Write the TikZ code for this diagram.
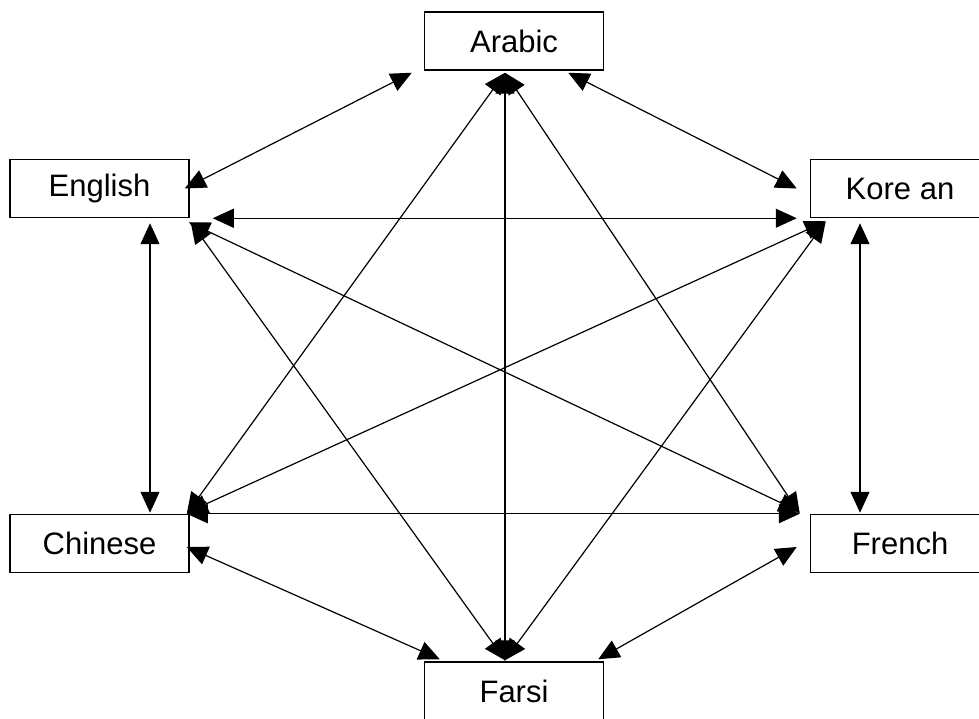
\documentclass[tikz,border=0pt]{standalone}
\usepackage{fontspec}
\setmainfont{Liberation Sans}
\usetikzlibrary{arrows.meta}

\begin{document}
\begin{tikzpicture}[
  x=1pt, y=-1pt,
  every node/.style={font=\fontsize{31}{36}\selectfont},
  lang/.style={rectangle, draw, line width=1.5pt, minimum width=179pt,
               minimum height=58pt, inner sep=0pt, align=center},
  arr/.style={{Triangle[length=21pt,width=19pt]}-{Triangle[length=21pt,width=19pt]},
              line width=1.2pt},
]
  \useasboundingbox (0,0) rectangle (979,719);

  % Language boxes
  \node[lang] (arabic)  at (514,41)    {Arabic};
  \node[lang] (english) at (99.5,188.5) {English};
  \node[lang] (korean)  at (900,188.5) {Kore an};
  \node[lang] (chinese) at (99.5,543.5) {Chinese};
  \node[lang] (french)  at (900,543.5) {French};
  \node[lang] (farsi)   at (514,691)   {Farsi};

  % Arrows from Arabic
  \draw[arr] ([xshift=-12pt,yshift=-2pt]arabic.south west) -- ([xshift=-5pt]english.east);
  \draw[arr] ([xshift=-36pt,yshift=-2pt]arabic.south east) -- ([xshift=-13pt]korean.west);
  \draw[arr] ([xshift=-9pt,yshift=-2pt]arabic.south) -- ([xshift=-9pt]farsi.north);
  \draw[arr] ([xshift=-9pt,yshift=-2pt]arabic.south) -- ([xshift=-3pt]chinese.north east);
  \draw[arr] ([xshift=-9pt,yshift=-2pt]arabic.south) -- ([xshift=-10pt]french.north west);

  % Arrows from English
  \draw[arr] ([xshift=23pt]english.south east) -- ([xshift=-13pt]korean.south west);
  \draw[arr] ([xshift=50.5pt,yshift=-5pt]english.south) -- ([xshift=50.5pt,yshift=1pt]chinese.north);
  \draw[arr] ([xshift=-1pt,yshift=-4pt]english.south east) -- ([xshift=-10pt,yshift=2pt]french.north west);
  \draw[arr] ([xshift=1pt,yshift=-4pt]english.south east) -- ([xshift=-9pt,yshift=1pt]farsi.north);

  % Arrows from Korean
  \draw[arr] ([xshift=16pt,yshift=-3pt]korean.south west) -- ([xshift=-3pt,yshift=1pt]chinese.north east);
  \draw[arr] ([xshift=-40pt,yshift=-5pt]korean.south) -- ([xshift=-40pt,yshift=1pt]french.north);
  \draw[arr] ([xshift=16pt,yshift=-3pt]korean.south west) -- ([xshift=-9pt,yshift=1pt]farsi.north);

  % Bottom row
  \draw[arr] ([xshift=-3pt]chinese.north east) -- ([xshift=-10pt]french.north west);
  \draw[arr] ([xshift=-3pt,yshift=-3.5pt]chinese.east) -- ([xshift=16pt,yshift=2pt]farsi.north west);
  \draw[arr] ([xshift=-13pt,yshift=-3.5pt]french.west) -- ([xshift=-6pt,yshift=2pt]farsi.north east);
\end{tikzpicture}
\end{document}
